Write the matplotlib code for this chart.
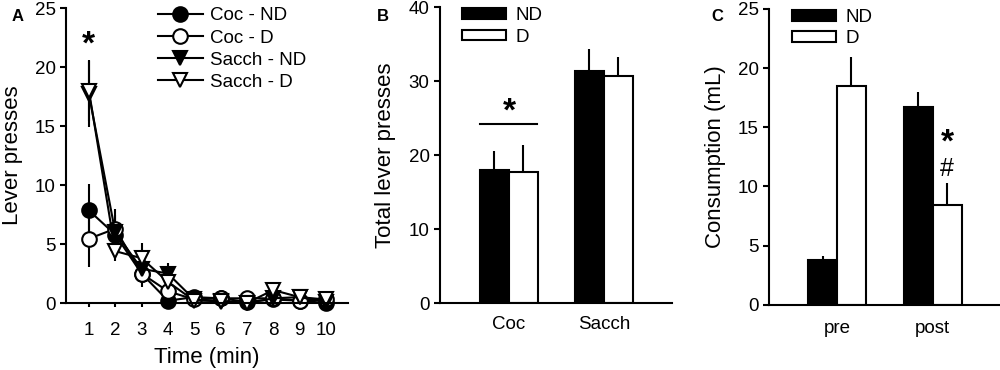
import matplotlib
matplotlib.use("Agg")
import matplotlib.pyplot as plt
import numpy as np

plt.rcParams['font.family'] = ['Liberation Sans', 'DejaVu Sans']

# ---------------- Data ----------------
time_min = [1, 2, 3, 4, 5, 6, 7, 8, 9, 10]
coc_nd = [7.85, 5.8, 2.5, 0.2, 0.5, 0.4, 0.1, 0.3, 0.2, 0.0]
coc_nd_err = [2.2, 1.2, 1.1, 0.2, 0.2, 0.2, 0.1, 0.2, 0.2, 0.1]
coc_d = [5.45, 6.3, 2.5, 1.0, 0.3, 0.4, 0.4, 0.4, 0.2, 0.3]
coc_d_err = [2.4, 1.7, 0.8, 0.4, 0.2, 0.2, 0.2, 0.2, 0.2, 0.2]
sacch_nd = [17.7, 6.0, 2.9, 2.5, 0.3, 0.1, 0.0, 0.4, 0.5, 0.1]
sacch_nd_err = [2.8, 1.5, 1.0, 0.9, 0.2, 0.1, 0.1, 0.3, 0.2, 0.1]
sacch_d = [18.0, 4.4, 3.8, 1.8, 0.2, 0.2, 0.0, 1.1, 0.5, 0.3]
sacch_d_err = [2.6, 0.8, 1.3, 0.6, 0.2, 0.2, 0.1, 0.3, 0.2, 0.2]
series_labels = ['Coc - ND', 'Coc - D', 'Sacch - ND', 'Sacch - D']

b_groups = ['Coc', 'Sacch']
b_nd = [18.0, 31.3]
b_nd_err = [2.6, 3.0]
b_d = [17.7, 30.7]
b_d_err = [3.7, 2.5]

c_groups = ['pre', 'post']
c_nd = [3.8, 16.7]
c_nd_err = [0.3, 1.3]
c_d = [18.5, 8.4]
c_d_err = [2.4, 1.9]

FS = 13.5
LW = 1.5

fig = plt.figure(figsize=(10, 3.7), dpi=100)
axA = fig.add_axes([0.066, 0.181, 0.282, 0.797])
axB = fig.add_axes([0.440, 0.181, 0.232, 0.800])
axC = fig.add_axes([0.769, 0.176, 0.231, 0.800])

def style(ax):
    for s in ['top', 'right']:
        ax.spines[s].set_visible(False)
    for s in ['left', 'bottom']:
        ax.spines[s].set_linewidth(LW)
    ax.tick_params(axis='both', labelsize=FS, width=LW, length=4, direction='out')

# ---------------- Panel A ----------------
specs = [
    (coc_nd, coc_nd_err, 'o', 'black', 10.5),
    (coc_d, coc_d_err, 'o', 'white', 10.5),
    (sacch_nd, sacch_nd_err, 'v', 'black', 10),
    (sacch_d, sacch_d_err, 'v', 'white', 10),
]
for (vals, errs, mk, fc, ms), lab in zip(specs, series_labels):
    axA.errorbar(time_min, vals, yerr=errs, color='black', lw=LW, elinewidth=LW,
                 capsize=0, marker=mk, markersize=ms, markerfacecolor=fc,
                 markeredgecolor='black', markeredgewidth=LW, label=lab, clip_on=False)
axA.set_xlim(0.13, 10.84)
axA.set_ylim(0, 25)
axA.set_xticks(time_min)
axA.set_yticks([0, 5, 10, 15, 20, 25])
axA.set_xlabel('Time (min)', fontsize=16)
axA.set_ylabel('Lever presses', fontsize=16)
axA.xaxis.set_label_coords(0.5, -0.150)
axA.yaxis.set_label_coords(-0.152, 0.5)
style(axA)
axA.tick_params(axis='x', length=3, pad=11)
hA, lA = axA.get_legend_handles_labels()
hA = [h[0] for h in hA]
axA.legend(hA, lA, loc='upper left', bbox_to_anchor=(0.326, 1.003), frameon=False,
           fontsize=FS, handlelength=2.4, handletextpad=0.4, labelspacing=0.27,
           borderaxespad=0, borderpad=0)
axA.text(1, 21.9, '*', ha='center', va='center', fontsize=24, fontweight='bold')
fig.text(0.012, 0.955, 'A', fontsize=12, fontweight='bold', ha='left', va='center')

# ---------------- Panel B ----------------
w = 0.305
xb = np.arange(len(b_groups))
axB.bar(xb - w / 2, b_nd, w, color='black', edgecolor='black', lw=LW, label='ND')
axB.bar(xb + w / 2, b_d, w, color='white', edgecolor='black', lw=LW, label='D')
axB.errorbar(xb - w / 2, b_nd, yerr=[np.zeros(2), b_nd_err], fmt='none', ecolor='black', elinewidth=LW, capsize=0)
axB.errorbar(xb + w / 2, b_d, yerr=[np.zeros(2), b_d_err], fmt='none', ecolor='black', elinewidth=LW, capsize=0)
axB.set_xlim(-0.726, 1.716)
axB.set_ylim(0, 40)
axB.set_yticks([0, 10, 20, 30, 40])
axB.set_xticks(xb)
axB.set_xticklabels(b_groups)
axB.set_ylabel('Total lever presses', fontsize=16)
axB.yaxis.set_label_coords(-0.190, 0.5)
style(axB)
axB.tick_params(axis='x', length=0, pad=9)
axB.legend(loc='upper left', bbox_to_anchor=(0.095, 1.0), frameon=False, fontsize=FS,
           handlelength=2.35, handleheight=0.5, handletextpad=0.5, labelspacing=0.24,
           borderaxespad=0, borderpad=0)
axB.plot([-w, w * 0.95], [24.2, 24.2], color='black', lw=LW)
axB.text(0, 25.8, '*', ha='center', va='center', fontsize=24, fontweight='bold')
fig.text(0.377, 0.955, 'B', fontsize=12, fontweight='bold', ha='left', va='center')

# ---------------- Panel C ----------------
wc = 0.30
xc = np.arange(len(c_groups))
axC.bar(xc - wc / 2, c_nd, wc, color='black', edgecolor='black', lw=LW, label='ND')
axC.bar(xc + wc / 2, c_d, wc, color='white', edgecolor='black', lw=LW, label='D')
axC.errorbar(xc - wc / 2, c_nd, yerr=[np.zeros(2), c_nd_err], fmt='none', ecolor='black', elinewidth=LW, capsize=0)
axC.errorbar(xc + wc / 2, c_d, yerr=[np.zeros(2), c_d_err], fmt='none', ecolor='black', elinewidth=LW, capsize=0)
axC.set_xlim(-0.708, 1.70)
axC.set_ylim(0, 25)
axC.set_yticks([0, 5, 10, 15, 20, 25])
axC.set_xticks(xc)
axC.set_xticklabels(c_groups)
axC.set_ylabel('Consumption (mL)', fontsize=16)
axC.yaxis.set_label_coords(-0.186, 0.5)
style(axC)
axC.tick_params(axis='x', length=0, pad=11)
axC.legend(loc='upper left', bbox_to_anchor=(0.10, 1.0), frameon=False, fontsize=FS,
           handlelength=2.35, handleheight=0.5, handletextpad=0.5, labelspacing=0.22,
           borderaxespad=0, borderpad=0)
axC.text(1 + wc / 2, 13.7, '*', ha='center', va='center', fontsize=24, fontweight='bold')
axC.text(1 + wc / 2, 11.5, '#', ha='center', va='center', fontsize=18)
fig.text(0.711, 0.955, 'C', fontsize=12, fontweight='bold', ha='left', va='center')

fig.savefig('out.png', dpi=100)
